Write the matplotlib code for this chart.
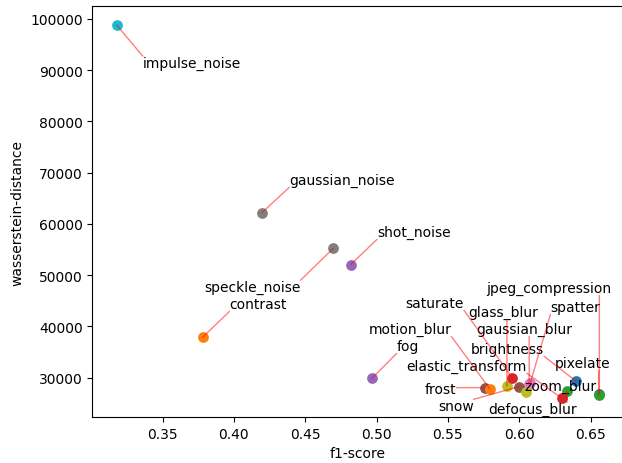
import matplotlib
matplotlib.use('Agg')
import matplotlib.pyplot as plt

# corruption names, sorted alphabetically (colour cycle follows this order)
names = ['brightness', 'contrast', 'defocus_blur', 'elastic_transform', 'fog',
         'frost', 'gaussian_blur', 'gaussian_noise', 'glass_blur', 'impulse_noise',
         'jpeg_compression', 'motion_blur', 'pixelate', 'saturate', 'shot_noise',
         'snow', 'spatter', 'speckle_noise', 'zoom_blur']
f1 = [0.6399, 0.3782, 0.6334, 0.6301, 0.4968,
      0.5758, 0.6070, 0.4197, 0.5914, 0.3178,
      0.6562, 0.5793, 0.6557, 0.5951, 0.4819,
      0.5998, 0.6077, 0.4697, 0.6049]
wd = [29280, 37920, 27330, 25960, 29870,
      28050, 28800, 62190, 28360, 98786,
      26880, 27850, 26550, 30000, 52045,
      28240, 28890, 55224, 27270]

# label positions (as left by the text-repel step)
label_x = [0.5919, 0.4171, 0.6093, 0.5632, 0.5220,
           0.5450, 0.6037, 0.4758, 0.5891, 0.3706,
           0.6205, 0.5234, 0.6443, 0.5408, 0.5261,
           0.5555, 0.6394, 0.4129, 0.6289]
label_y = [35521, 44300, 23818, 32205, 36107,
           27717, 39423, 68490, 42740, 91315,
           47422, 39423, 32790, 44517, 58346,
           24403, 43715, 47617, 28302]

fig = plt.figure(figsize=(6.22, 4.64), dpi=100)
ax = fig.add_axes([0.1487, 0.0991, 0.8537, 0.8851])

for i, name in enumerate(names):
    ax.scatter(f1[i], wd[i], s=45)

texts = []
for i, name in enumerate(names):
    texts.append(ax.text(label_x[i], label_y[i], name, ha='center', va='center',
                         fontsize=10))

ax.set_xlabel('f1-score')
ax.set_ylabel('wasserstein-distance')

# connect each point to the nearest spot on its label box
fig.canvas.draw()
renderer = fig.canvas.get_renderer()
inv = ax.transData.inverted()
for i, t in enumerate(texts):
    bb = t.get_window_extent(renderer)
    px, py = ax.transData.transform((f1[i], wd[i]))
    ex = min(max(px, bb.x0), bb.x1)
    ey = min(max(py, bb.y0), bb.y1)
    edge = inv.transform((ex, ey))
    ax.annotate('', xy=(f1[i], wd[i]), xytext=tuple(edge),
                arrowprops=dict(arrowstyle='-', color='red', alpha=0.5, lw=1,
                                shrinkA=0, shrinkB=0, patchA=None))

fig.savefig('out.png', dpi=100)
